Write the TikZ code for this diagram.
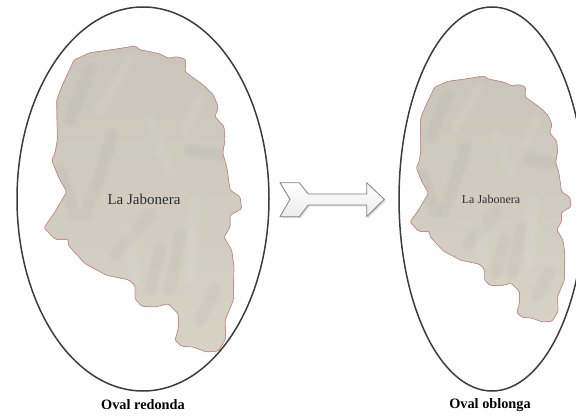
\documentclass[tikz,border=0pt]{standalone}
\usepackage{fontspec}
\setmainfont{Liberation Serif}
\usetikzlibrary{positioning}
\definecolor{relief}{HTML}{C9C5BA}
\definecolor{reliefdark}{HTML}{A0A29C}
\definecolor{reliefpale}{HTML}{D6D3C5}
\definecolor{border}{HTML}{D08A86}
\definecolor{ovalline}{HTML}{3C3C3C}
\definecolor{labeltext}{HTML}{2E2E2E}
\newcommand{\mapoutline}{(135,46) -- (140,50) -- (150,51.7) -- (160,54) -- (168.3,58.3) -- (176.7,56.7) -- (185.7,59.3) -- (185,71.7) -- (191.7,76.7) -- (203.3,85) -- (213.3,95) -- (218.3,106.7) -- (215,116.7) -- (224,126.7) -- (225,140) -- (222.7,153.3) -- (226.7,166.7) -- (230,190) -- (240,196.7) -- (241.7,208.7) -- (230,215.3) -- (230,227) -- (224,237) -- (231.7,250.3) -- (234,267) -- (233.3,300.3) -- (225,320.3) -- (225.7,338.7) -- (218.3,351) -- (206.7,352) -- (193.3,347) -- (181.7,346.3) -- (175,340.3) -- (178.3,328.7) -- (178.3,313.7) -- (168.3,303.7) -- (155,307) -- (141.7,306.3) -- (135,298.7) -- (135,285.3) -- (128.3,279.7) -- (106.7,275.3) -- (85,263.7) -- (68.3,245.3) -- (68.3,239.3) -- (55,239.3) -- (44,227.7) -- (55,212) -- (66.7,191.7) -- (58.3,176.7) -- (51.7,160) -- (55,153.3) -- (57.3,140) -- (56.7,100) -- (61.7,86.7) -- (74,60) -- (90,52.7) -- (110,50) -- cycle}
\newcommand{\maprelief}{%
  \begin{scope}
    \clip[rounded corners=1.5pt] \mapoutline;
    \fill[top color=relief,bottom color=reliefpale] (40,40) rectangle (245,355);
    \foreach \ridge in {{(60,170) -- (75,215)},{(112,135) -- (100,175) -- (85,215)},{(150,215) -- (115,255)},{(180,235) -- (170,290)},{(215,290) -- (200,320)},{(90,70) -- (70,120)},{(190,150) -- (220,155)},{(160,250) -- (150,290)}}
      \foreach \wd in {14,9}
        \draw[reliefdark,opacity=.06,line width=\wd pt,line cap=round,line join=round] \ridge;
    \foreach \ridge in {{(130,60) -- (100,110)},{(150,120) -- (170,170)},{(200,100) -- (185,130)},{(130,230) -- (135,280)},{(195,200) -- (190,280)}}
      \foreach \wd in {12,7}
        \draw[white,opacity=.04,line width=\wd pt,line cap=round,line join=round] \ridge;
  \end{scope}
  \draw[border,line width=.7pt,rounded corners=1.5pt] \mapoutline;
}
\tikzset{
  oval/.style={draw=ovalline,line width=1.5pt},
  maplabel/.style={text=labeltext,inner sep=0pt},
  caption/.style={text=black,inner sep=0pt,font=\bfseries\fontsize{14.3}{14.3}\selectfont},
  arrowshape/.style={line join=miter}
}
\newcommand{\arrowpath}{(280,182.7) -- (299.3,182.7) -- (308.3,194) -- (366.7,194) -- (366.7,182.7) -- (384.3,199.3) -- (366.7,216.7) -- (366.7,205) -- (308.3,205) -- (299.3,216.7) -- (280,216.7) -- (290,199.3) -- cycle}

\begin{document}
\begin{tikzpicture}[x=1pt,y=-1pt]
  \useasboundingbox (0,0) rectangle (576,417);
  \clip (0,0) rectangle (576,417);

  % left map
  \maprelief
  \draw[oval] (143,199) ellipse [x radius=126,y radius=192];
  \node[maplabel,font=\fontsize{15}{15}\selectfont] (nameleft) at (144,199.5) {La Jabonera};
  \node[caption] (capleft) at (143,405) {Oval redonda};

  % right map
  \begin{scope}[shift={(410,76)},xscale=.815,yscale=.804,shift={(-44,-46)}]
    \maprelief
  \end{scope}
  \draw[oval] (492,199) ellipse [x radius=93,y radius=192];
  \node[maplabel,font=\fontsize{12}{12}\selectfont] (nameright) at (491,199.5) {La Jabonera};
  \node[caption] (capright) at (490,405) {Oval oblonga};

  % arrow
  \fill[gray!25,shift={(1.5,1.5)}] \arrowpath;
  \draw[arrowshape,draw=gray,line width=.8pt,top color=white,bottom color=gray!15] \arrowpath;
\end{tikzpicture}
\end{document}
